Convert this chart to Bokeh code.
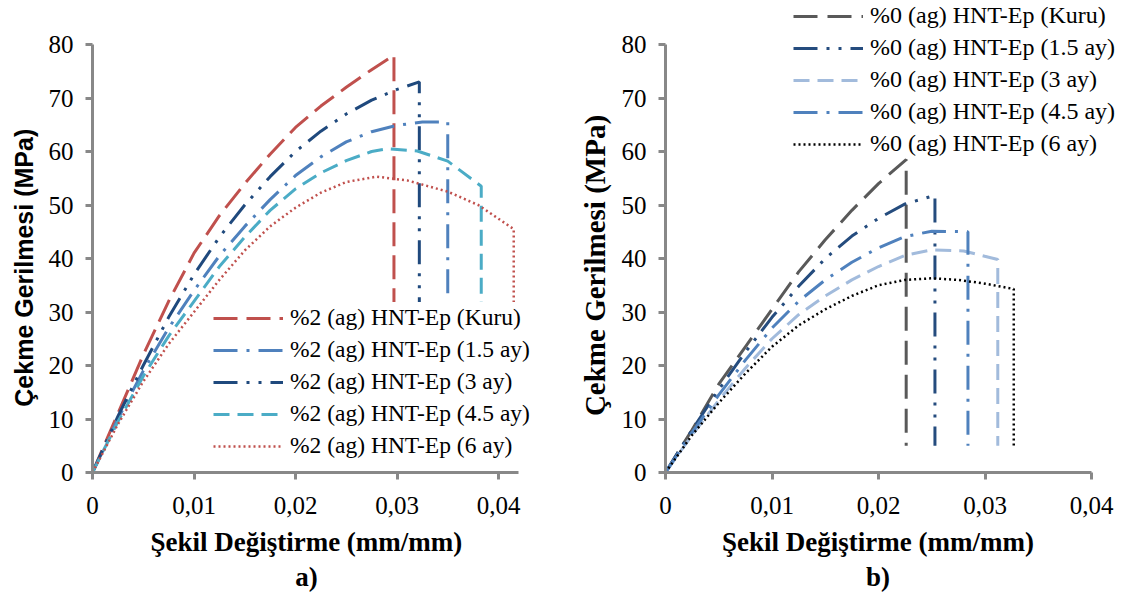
from bokeh.plotting import figure
from bokeh.models import Legend, LegendItem, FixedTicker, CustomJSTickFormatter, Title, Range1d
from bokeh.layouts import row
from bokeh.embed import file_html
from bokeh.resources import INLINE

# ---------------- Panel a) : %2 (ag) HNT-Ep ----------------
a_labels = ["%2 (ag) HNT-Ep (Kuru)", "%2 (ag) HNT-Ep (1.5 ay)", "%2 (ag) HNT-Ep (3 ay)",
            "%2 (ag) HNT-Ep (4.5 ay)", "%2 (ag) HNT-Ep (6 ay)"]

a_kuru_x = [0, 0.0025, 0.005, 0.0075, 0.01, 0.0125, 0.015, 0.0175, 0.02, 0.0225, 0.025, 0.0275, 0.0297, 0.0297]
a_kuru_y = [0, 11, 22, 32, 41, 48, 54, 59.5, 64.5, 68.5, 72, 75.3, 78, 5]

a_15_x = [0, 0.0025, 0.005, 0.0075, 0.01, 0.0125, 0.015, 0.0175, 0.02, 0.0225, 0.025, 0.0275, 0.03, 0.0325, 0.035, 0.035]
a_15_y = [0, 10, 19, 27, 34, 40.5, 46, 51, 55.5, 59, 61.8, 63.7, 64.9, 65.5, 65.5, 5]

a_3_x = [0, 0.0025, 0.005, 0.0075, 0.01, 0.0125, 0.015, 0.0175, 0.02, 0.0225, 0.025, 0.0275, 0.03, 0.0322, 0.0322]
a_3_y = [0, 10.5, 20, 29, 37, 44, 50, 55.3, 60, 63.8, 67, 69.6, 71.6, 73, 5]

a_45_x = [0, 0.0025, 0.005, 0.0075, 0.01, 0.0125, 0.015, 0.0175, 0.02, 0.0225, 0.025, 0.0275, 0.029, 0.032, 0.035, 0.0383, 0.0383]
a_45_y = [0, 9.5, 18, 25.5, 32, 38.5, 44, 49, 53, 56, 58.3, 60, 60.5, 60.1, 58.2, 53.5, 5]

a_6_x = [0, 0.0025, 0.005, 0.0075, 0.01, 0.0125, 0.015, 0.0175, 0.02, 0.0225, 0.025, 0.028, 0.031, 0.035, 0.038, 0.0415, 0.0415]
a_6_y = [0, 9, 17, 24, 30, 36, 41.5, 46, 49.5, 52.3, 54.3, 55.3, 54.6, 52.5, 50, 45.5, 5]

# ---------------- Panel b) : %0 (ag) HNT-Ep ----------------
b_labels = ["%0 (ag) HNT-Ep (Kuru)", "%0 (ag) HNT-Ep (1.5 ay)", "%0 (ag) HNT-Ep (3 ay)",
            "%0 (ag) HNT-Ep (4.5 ay)", "%0 (ag) HNT-Ep (6 ay)"]

b_kuru_x = [0, 0.0025, 0.005, 0.0075, 0.01, 0.0125, 0.015, 0.0175, 0.02, 0.0226, 0.0226]
b_kuru_y = [0, 8, 16.5, 23.5, 30.5, 37.5, 43.5, 49, 54, 58.5, 5]

b_15_x = [0, 0.0025, 0.005, 0.0075, 0.01, 0.0125, 0.015, 0.0175, 0.02, 0.0225, 0.0253, 0.0253]
b_15_y = [0, 8, 15.5, 22.5, 29, 34.8, 40, 44.2, 47.5, 50.2, 51.8, 5]

b_3_x = [0, 0.0025, 0.005, 0.0075, 0.01, 0.0125, 0.015, 0.0175, 0.02, 0.0225, 0.025, 0.028, 0.0312, 0.0312]
b_3_y = [0, 7, 13.5, 19.5, 25, 29.5, 33, 36, 38.5, 40.6, 41.6, 41.4, 39.8, 5]

b_45_x = [0, 0.0025, 0.005, 0.0075, 0.01, 0.0125, 0.015, 0.0175, 0.02, 0.0225, 0.025, 0.0284, 0.0284]
b_45_y = [0, 7.5, 14.5, 21, 27, 32, 36, 39.3, 42, 44.1, 45.1, 45, 5]

b_6_x = [0, 0.0025, 0.005, 0.0075, 0.01, 0.0125, 0.015, 0.0175, 0.02, 0.0225, 0.025, 0.0275, 0.03, 0.0327, 0.0327]
b_6_y = [0, 7, 13, 18.5, 23.5, 27.5, 30.5, 33, 35, 36, 36.3, 36, 35.3, 34.3, 5]

y_ticks = [0, 10, 20, 30, 40, 50, 60, 70, 80]
x_ticks = [0, 0.01, 0.02, 0.03, 0.04]

x_title = "Şekil Değiştirme (mm/mm)"
y_title = "Çekme Gerilmesi (MPa)"

AXIS_COLOR = "#888888"
SERIF = "Liberation Serif"
NB = "\u00a0"


def make_fig(width, left, right, xmax, xbound, panel, xlabel, ylabel, yfont, ysize):
    p = figure(width=width, height=596, output_backend="svg", toolbar_location=None,
               x_range=Range1d(0, xmax), y_range=Range1d(0, 472 / 5.35),
               min_border_left=left, min_border_right=right,
               min_border_top=0, min_border_bottom=124)
    p.outline_line_color = None
    p.xgrid.visible = False
    p.ygrid.visible = False
    p.background_fill_color = "white"
    p.border_fill_color = "white"
    for ax in (p.xaxis[0], p.yaxis[0]):
        ax.axis_line_color = AXIS_COLOR
        ax.axis_line_width = 3
        ax.major_tick_line_color = AXIS_COLOR
        ax.major_tick_line_width = 3
        ax.major_tick_in = 0
        ax.major_tick_out = 7
        ax.minor_tick_line_color = None
        ax.major_label_text_font = SERIF
        ax.major_label_text_font_size = "25px"
        ax.major_label_text_color = "black"
        ax.axis_label_text_color = "black"
        ax.axis_label_text_font_style = "bold"
    p.xaxis[0].bounds = (0, xbound)
    p.yaxis[0].bounds = (0, 80)
    p.xaxis[0].major_label_standoff = 17
    p.yaxis[0].major_label_standoff = 12
    p.xaxis[0].ticker = FixedTicker(ticks=x_ticks)
    p.xaxis[0].formatter = CustomJSTickFormatter(
        code='return tick == 0 ? "0" : tick.toFixed(2).replace(".", ",");')
    p.yaxis[0].ticker = FixedTicker(ticks=y_ticks)
    p.xaxis[0].axis_label = xlabel
    p.xaxis[0].axis_label_text_font = SERIF
    p.xaxis[0].axis_label_text_font_size = "27px"
    p.xaxis[0].axis_label_standoff = 10
    p.yaxis[0].axis_label = ylabel
    p.yaxis[0].axis_label_text_font = yfont
    p.yaxis[0].axis_label_text_font_size = ysize
    p.yaxis[0].axis_label_standoff = 8
    p.add_layout(Title(text=panel, align="center", text_font=SERIF, text_font_size="27px",
                       text_font_style="bold", text_color="black", standoff=0), "below")
    return p


# left panel: frame x 92..540 (0.01 -> 101.5 px), y 0..472 (10 MPa -> 53.5 px)
pa = make_fig(540, 92, 0, 448 / 10150, 0.042, "a)" + NB * 3,
              x_title + NB * 3, y_title + NB * 9, "Liberation Sans", "25px")
# right panel: frame x 665..1117 (0.01 -> 106.5 px)
pb = make_fig(582, 125, 5, 452 / 10650, 0.04, "b)" + NB * 4,
              x_title + NB * 4, y_title + NB * 8, SERIF, "29px")

a_series = [
    (a_kuru_x, a_kuru_y, "#C0504D", "24 9", 3),
    (a_15_x, a_15_y, "#4F81BD", "24 9 3 9", 3),
    (a_3_x, a_3_y, "#1F497D", "24 9 3 9 3 9", 3),
    (a_45_x, a_45_y, "#4BACC6", "16 8", 3),
    (a_6_x, a_6_y, "#C0504D", "2 3", 2.5),
]
b_series = [
    (b_kuru_x, b_kuru_y, "#595959", "24 10", 3),
    (b_15_x, b_15_y, "#254C7E", "24 9 3 9 3 9", 3),
    (b_3_x, b_3_y, "#A2BBDC", "16 8", 3),
    (b_45_x, b_45_y, "#4F81BD", "24 9 3 9", 3),
    (b_6_x, b_6_y, "#000000", "2 3", 2.5),
]


def add_series(p, series, labels, loc, fill_alpha, fsize):
    items = []
    for (xs, ys, color, dash, w), lab in zip(series, labels):
        r = p.line(xs, ys, line_color=color, line_dash=dash, line_width=w)
        items.append(LegendItem(label=lab, renderers=[r]))
    leg = Legend(items=items, location=loc, padding=0, margin=0, spacing=1,
                 label_height=31, glyph_height=20, glyph_width=70, label_standoff=7,
                 label_text_font=SERIF, label_text_font_size=fsize, label_text_color="black",
                 background_fill_color="white", background_fill_alpha=fill_alpha,
                 border_line_alpha=0)
    p.add_layout(leg, "center")


add_series(pa, a_series, a_labels, (121, 11), 1.0, "23.5px")
add_series(pb, b_series, b_labels, (128, 313), 0.0, "24px")

layout = row(pa, pb, spacing=0)
open("out.html", "w").write(file_html(layout, INLINE))
